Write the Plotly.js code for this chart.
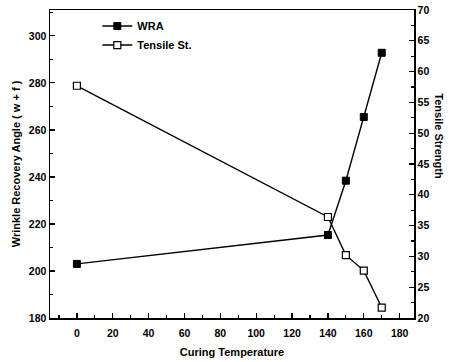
<!DOCTYPE html>
<html><head><meta charset="utf-8">
<script src="https://cdn.plot.ly/plotly-3.0.1.min.js"></script>
<style>html,body{margin:0;padding:0;background:#fff}#c{width:450px;height:362px}</style>
</head><body><div id="c"></div>
<script>
const temps = [0, 140, 150, 160, 170];
const wra = [203, 215.3, 238.4, 265.5, 292.8];
const tensile = [57.7, 36.4, 30.2, 27.7, 21.7];
const seriesNames = ['WRA', 'Tensile St.'];
const xTitle = 'Curing Temperature';
const yTitle = 'Wrinkle Recovery Angle ( w + f )';
const y2Title = 'Tensile Strength';

const F = 'Liberation Sans, Arial, sans-serif';
const traces = [
  {x: temps, y: wra, name: seriesNames[0], mode: 'lines+markers', yaxis: 'y',
   line: {color: '#000', width: 1.4},
   marker: {symbol: 'square', size: 7, color: '#000', line: {color: '#000', width: 1}}},
  {x: temps, y: tensile, name: seriesNames[1], mode: 'lines+markers', yaxis: 'y2',
   line: {color: '#000', width: 1.4},
   marker: {symbol: 'square', size: 7, color: '#fff', line: {color: '#000', width: 1.2}}}
];
const axBase = {showline: true, linecolor: '#000', linewidth: 1.5, ticks: 'inside', ticklen: 5,
  tickwidth: 1.2, tickcolor: '#000', showgrid: false, zeroline: false,
  tickfont: {family: F, size: 10.5, color: '#000', weight: 'bold'}};
const layout = {
  width: 450, height: 362, paper_bgcolor: '#fff', plot_bgcolor: '#fff',
  margin: {l: 50, r: 36, t: 10, b: 44},
  showlegend: true,
  legend: {x: 0.13, y: 0.995, xanchor: 'left', yanchor: 'top', bgcolor: 'rgba(0,0,0,0)',
    font: {family: F, size: 11, color: '#000', weight: 'bold'}, tracegroupgap: 0, itemwidth: 30},
  xaxis: Object.assign({}, axBase, {range: [-15, 188], dtick: 20, tick0: 0, mirror: true,
    ticklabelstandoff: 5,
    minor: {dtick: 10, tick0: 0, ticks: 'inside', ticklen: 3, tickcolor: '#000'},
    title: {text: xTitle, font: {family: F, size: 11, color: '#000', weight: 'bold'}, standoff: 10}}),
  yaxis: Object.assign({}, axBase, {range: [180, 311], dtick: 20, tick0: 180,
    minor: {dtick: 10, ticks: 'inside', ticklen: 3, tickcolor: '#000'},
    title: {text: yTitle, font: {family: F, size: 11, color: '#000', weight: 'bold'}, standoff: 6}}),
  yaxis2: Object.assign({}, axBase, {range: [20, 70], dtick: 5, tick0: 20, overlaying: 'y', side: 'right',
    minor: {dtick: 2.5, ticks: 'inside', ticklen: 3, tickcolor: '#000'}}),
  annotations: [{text: y2Title, xref: 'paper', yref: 'paper', x: 1, y: 0.59, xshift: 25,
    xanchor: 'center', yanchor: 'middle',
    showarrow: false, textangle: 90, font: {family: F, size: 11, color: '#000', weight: 'bold'}}]
};
Plotly.newPlot('c', traces, layout, {displayModeBar: false, staticPlot: true});
</script></body></html>
